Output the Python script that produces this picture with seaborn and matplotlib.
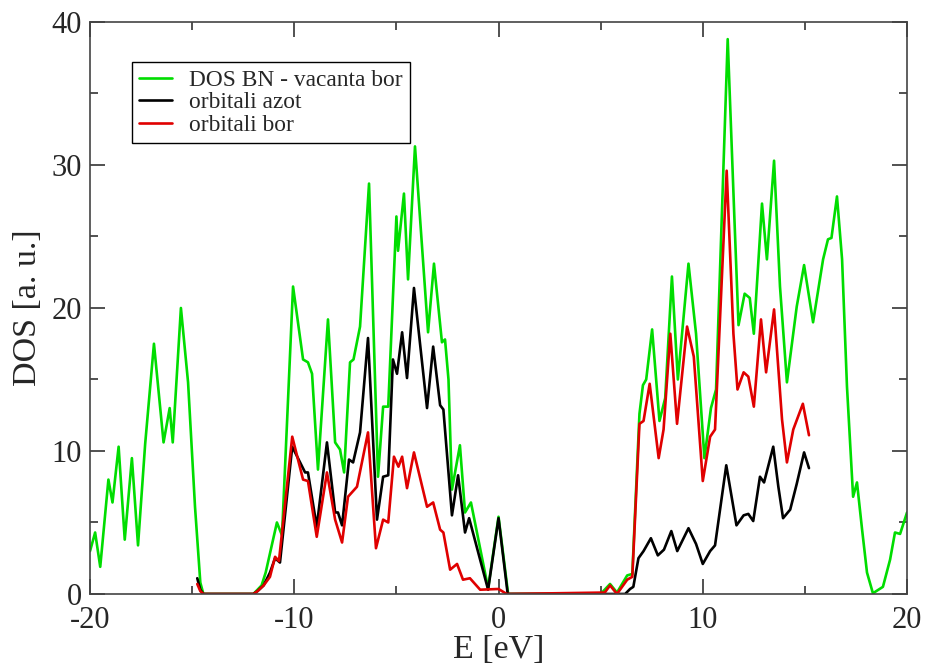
import numpy as np
import pandas as pd
import matplotlib
matplotlib.use("Agg")
import matplotlib.pyplot as plt
from matplotlib.ticker import MultipleLocator
import seaborn as sns

# total DOS, BN with boron vacancy
e_total = [-20.0, -19.75, -19.5, -19.1, -18.9, -18.6, -18.3, -17.95, -17.65, -17.3,
           -16.87, -16.4, -16.1, -15.95, -15.55, -15.2, -14.86, -14.6, -14.45, -12.0,
           -11.8, -11.6, -11.4, -10.85, -10.6, -10.06, -9.57, -9.33, -9.13, -8.84,
           -8.35, -8.0, -7.76, -7.56, -7.27, -7.1, -6.78, -6.34, -5.9, -5.65,
           -5.4, -5.0, -4.92, -4.63, -4.43, -4.09, -3.45, -3.16, -2.77, -2.62,
           -2.45, -2.28, -1.89, -1.64, -1.35, -0.51, 0.0, 0.47, 5.0, 5.46,
           5.8, 6.3, 6.55, 6.9, 7.07, 7.23, 7.52, 7.88, 8.16, 8.49,
           8.78, 9.3, 9.67, 10.08, 10.4, 10.65, 11.22, 11.55, 11.75, 12.05,
           12.3, 12.5, 12.9, 13.14, 13.49, 13.78, 14.12, 14.6, 14.96, 15.4,
           15.89, 16.13, 16.3, 16.57, 16.82, 17.06, 17.36, 17.55, 17.8, 18.04,
           18.33, 18.82, 19.17, 19.41, 19.66, 20.0]
dos_total = [3.0, 4.3, 1.9, 8.0, 6.4, 10.3, 3.8, 9.5, 3.4, 10.5,
             17.5, 10.6, 13.0, 10.6, 20.0, 14.8, 6.1, 0.8, 0.0, 0.0,
             0.3, 0.6, 1.5, 5.0, 4.1, 21.5, 16.4, 16.2, 15.4, 8.7,
             19.2, 10.6, 10.1, 8.5, 16.2, 16.4, 18.7, 28.7, 8.2, 13.1,
             13.1, 26.4, 24.0, 28.0, 22.0, 31.3, 18.3, 23.1, 17.6, 17.8,
             15.0, 7.3, 10.4, 5.7, 6.4, 0.4, 5.4, 0.0, 0.0, 0.7,
             0.1, 1.3, 1.4, 12.6, 14.6, 15.0, 18.5, 12.1, 13.7, 22.2,
             15.0, 23.1, 18.2, 9.5, 13.0, 14.3, 38.8, 26.2, 18.8, 21.0,
             20.7, 18.2, 27.3, 23.4, 30.3, 21.5, 14.8, 20.1, 23.0, 19.0,
             23.4, 24.8, 24.9, 27.8, 23.4, 14.5, 6.8, 7.8, 4.5, 1.5,
             0.05, 0.5, 2.4, 4.3, 4.2, 5.7]

# nitrogen orbitals
e_azot = [-14.75, -14.6, -14.45, -12.0, -11.8, -11.5, -11.19, -10.94, -10.7, -10.1,
          -9.47, -9.33, -8.9, -8.4, -8.0, -7.86, -7.66, -7.32, -7.12, -6.78,
          -6.39, -5.95, -5.65, -5.4, -5.17, -4.97, -4.72, -4.48, -4.14, -3.5,
          -3.2, -2.86, -2.7, -2.28, -1.98, -1.64, -1.44, -0.51, 0.0, 0.45,
          6.2, 6.44, 6.6, 6.85, 7.1, 7.46, 7.8, 8.1, 8.46, 8.75,
          9.3, 9.67, 10.0, 10.36, 10.6, 11.15, 11.65, 12.0, 12.23, 12.47,
          12.8, 13.0, 13.45, 13.7, 13.93, 14.28, 14.6, 14.96, 15.2]
dos_azot = [1.1, 0.3, 0.0, 0.0, 0.2, 0.6, 1.5, 2.5, 2.2, 10.3,
            8.5, 8.5, 4.7, 10.6, 5.7, 5.7, 4.8, 9.4, 9.2, 11.3,
            17.9, 5.2, 8.2, 8.3, 16.4, 15.4, 18.3, 15.1, 21.4, 13.0,
            17.3, 13.2, 12.9, 5.5, 8.3, 4.3, 5.3, 0.3, 5.3, 0.0,
            0.0, 0.35, 0.5, 2.5, 3.0, 3.9, 2.7, 3.1, 4.4, 3.0,
            4.6, 3.5, 2.1, 3.0, 3.4, 9.0, 4.8, 5.5, 5.6, 5.1,
            8.2, 7.8, 10.3, 7.5, 5.3, 5.9, 7.7, 9.9, 8.8]

# boron orbitals
e_bor = [-14.75, -14.6, -14.45, -12.0, -11.8, -11.5, -11.19, -10.94, -10.75, -10.1,
         -9.57, -9.33, -8.9, -8.4, -8.0, -7.66, -7.37, -6.93, -6.39, -6.0,
         -5.65, -5.4, -5.12, -4.9, -4.72, -4.48, -4.14, -3.5, -3.2, -2.86,
         -2.7, -2.37, -2.03, -1.74, -1.4, -0.9, 0.0, 0.4, 5.2, 5.46,
         5.8, 6.3, 6.55, 6.9, 7.1, 7.4, 7.84, 8.08, 8.41, 8.74,
         9.23, 9.56, 10.0, 10.36, 10.6, 11.17, 11.5, 11.7, 12.0, 12.23,
         12.5, 12.85, 13.1, 13.49, 13.88, 14.12, 14.43, 14.9, 15.2]
dos_bor = [0.7, 0.2, 0.0, 0.0, 0.2, 0.6, 1.2, 2.6, 2.3, 11.0,
           8.0, 7.9, 4.0, 8.5, 5.2, 3.6, 6.8, 7.5, 11.3, 3.2,
           5.2, 5.0, 9.6, 8.9, 9.6, 7.4, 9.9, 6.1, 6.4, 4.5,
           4.3, 1.7, 2.1, 1.0, 1.1, 0.3, 0.35, 0.0, 0.1, 0.6,
           0.0, 1.0, 1.2, 11.9, 12.1, 14.7, 9.5, 11.5, 18.2, 11.9,
           18.7, 16.6, 7.9, 11.0, 11.5, 29.6, 18.2, 14.3, 15.5, 15.2,
           13.1, 19.2, 15.5, 19.9, 12.2, 9.2, 11.5, 13.3, 11.1]

labels = ["DOS BN - vacanta bor", "orbitali azot", "orbitali bor"]
colors = {"DOS BN - vacanta bor": "#00dd00", "orbitali azot": "#000000",
          "orbitali bor": "#e00000"}

df = pd.concat([
  pd.DataFrame({"E": e_total, "DOS": dos_total, "serie": labels[0]}),
  pd.DataFrame({"E": e_azot, "DOS": dos_azot, "serie": labels[1]}),
  pd.DataFrame({"E": e_bor, "DOS": dos_bor, "serie": labels[2]}),
])

sns.set_style("ticks")
plt.rcParams['font.family'] = ['Liberation Serif', 'DejaVu Serif']
plt.rcParams['axes.unicode_minus'] = False

fig = plt.figure(figsize=(9.3, 6.68), dpi=100)
ax = fig.add_axes([0.0968, 0.1108, 0.8785, 0.8563])

sns.lineplot(data=df, x="E", y="DOS", hue="serie", hue_order=labels,
             palette=colors, estimator=None, sort=False, linewidth=1.9,
             solid_joinstyle="round", ax=ax)

ax.set_xlim(-20, 20)
ax.set_ylim(0, 40)
ax.xaxis.set_major_locator(MultipleLocator(10))
ax.xaxis.set_minor_locator(MultipleLocator(5))
ax.yaxis.set_major_locator(MultipleLocator(10))
ax.yaxis.set_minor_locator(MultipleLocator(5))
ax.tick_params(which="both", direction="in", top=True, right=True,
               width=1.2, color="#333333", labelsize=22)
ax.tick_params(axis="x", pad=9)
ax.tick_params(axis="y", pad=6)
ax.tick_params(which="major", length=11)
ax.tick_params(which="minor", length=6)
for sp in ax.spines.values():
  sp.set_linewidth(1.2)
  sp.set_color("#444444")

ax.set_xlabel("E [eV]", fontsize=24.5, labelpad=-1)
ax.set_ylabel("DOS [a. u.]", fontsize=24.5, labelpad=6)

handles, labs = ax.get_legend_handles_labels()
leg = ax.legend(handles, labs, loc="upper left", bbox_to_anchor=(0.051, 0.930),
                borderaxespad=0, fontsize=16.8, frameon=True, fancybox=False,
                framealpha=1, edgecolor="black", handlelength=1.4,
                labelspacing=0.05, borderpad=0.32, handletextpad=0.75)
leg.get_frame().set_linewidth(1.0)

fig.savefig("out.png", dpi=100)
plt.close()
